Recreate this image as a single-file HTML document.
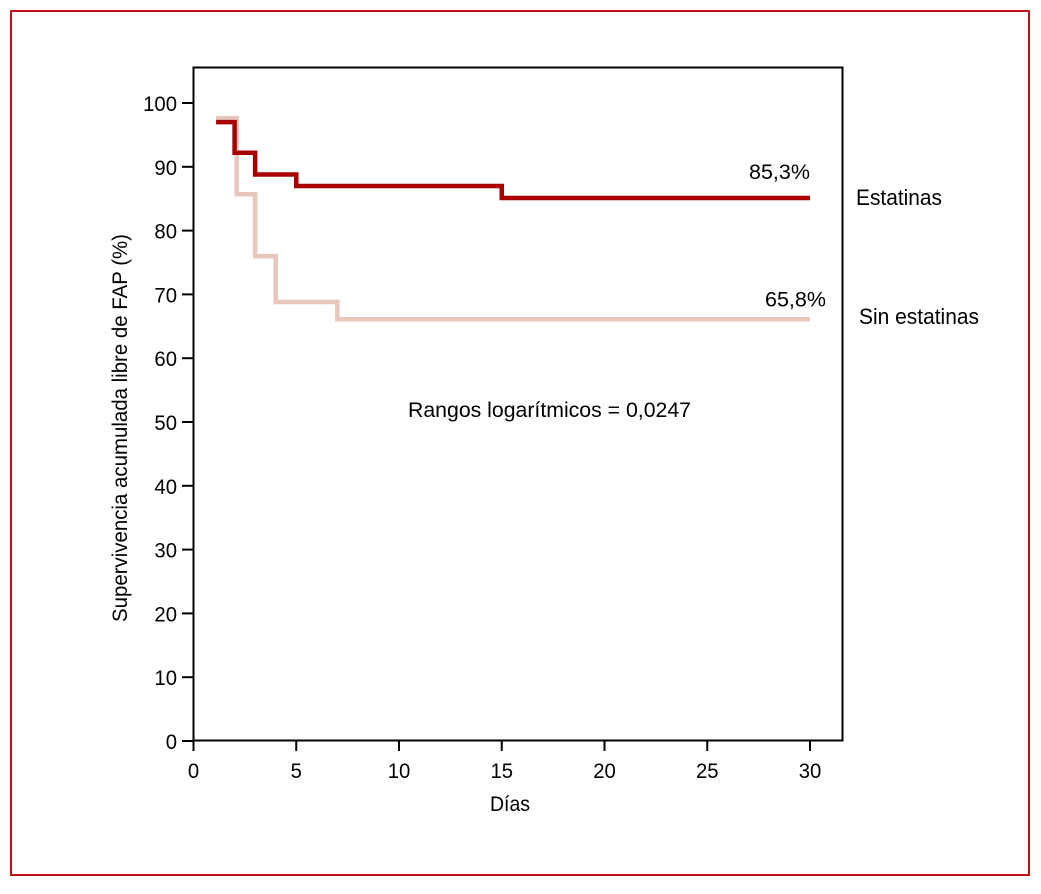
<!DOCTYPE html>
<html><head><meta charset="utf-8"><style>
body{margin:0;background:#fff;width:1041px;height:889px;overflow:hidden;font-family:"Liberation Sans",sans-serif}
</style></head><body>
<svg width="1041" height="889" xmlns="http://www.w3.org/2000/svg" font-family="Liberation Sans Narrow, Liberation Sans, sans-serif">
<rect x="11" y="11" width="1018" height="864" fill="none" stroke="#c0101e" stroke-width="2"/>
<g id="plot"></g>
</svg>
<script>
const yTicks=[0,10,20,30,40,50,60,70,80,90,100];
const xTicks=[0,5,10,15,20,25,30];
const statinDays=[1.1,2,3,5,15,30];
const statinValues=[97,92.2,88.8,87,85.1,85.1];
const noStatinDays=[1.1,2.1,3,4,7,30];
const noStatinValues=[97.6,85.7,76,68.8,66.1,66.1];
const endLabels=["85,3%","65,8%"];
const seriesNames=["Estatinas","Sin estatinas"];

const NS="http://www.w3.org/2000/svg";
const g=document.getElementById('plot');
const X=d=>193.5+d*(810-193.5)/30;
const Y=v=>741-v*6.38;
function el(t,a,txt){const e=document.createElementNS(NS,t);for(const k in a)e.setAttribute(k,a[k]);if(txt!==undefined)e.textContent=txt;g.appendChild(e);return e;}
const box=el('path',{d:`M193.5,67.5H842.5V740.5H193.5Z`,fill:'none',stroke:'#000','stroke-width':2});


yTicks.forEach(v=>{
 const t=el('line',{x1:182,x2:193.5,y1:Y(v),y2:Y(v),stroke:'#000','stroke-width':2});
 
 
 const l=el('text',{x:177,y:Y(v)+8,'text-anchor':'end','font-size':21,textLength:String(v).length*11.3,lengthAdjust:'spacingAndGlyphs'},v);
 
 
});
xTicks.forEach(v=>{
 const t=el('line',{x1:X(v),x2:X(v),y1:740.5,y2:751,stroke:'#000','stroke-width':2});
 
 
 const l=el('text',{x:X(v),y:778,'text-anchor':'middle','font-size':21,textLength:String(v).length*11.3,lengthAdjust:'spacingAndGlyphs'},v);
 
 
});
function step(days,vals,color,name){
 let d=`M${X(days[0])},${Y(vals[0])}`;
 for(let i=1;i<days.length;i++){d+=`H${X(days[i])}V${Y(vals[i])}`;}
 const p=el('path',{d,fill:'none',stroke:color,'stroke-width':4.5});
 
 
}
step(noStatinDays,noStatinValues,'#e8c6bc','sin-estatinas-curve');
step(statinDays,statinValues,'#a80000','estatinas-curve');
const a=el('text',{x:X(30),y:Y(statinValues[statinValues.length-1])-19,'text-anchor':'end','font-size':21,textLength:61,lengthAdjust:'spacingAndGlyphs'},endLabels[0]);


const b=el('text',{x:X(30)+16,y:Y(noStatinValues[noStatinValues.length-1])-13,'text-anchor':'end','font-size':21,textLength:61,lengthAdjust:'spacingAndGlyphs'},endLabels[1]);


const c=el('text',{x:856,y:205,'font-size':22,textLength:86,lengthAdjust:'spacingAndGlyphs'},seriesNames[0]);


const e=el('text',{x:859,y:324,'font-size':22,textLength:120,lengthAdjust:'spacingAndGlyphs'},seriesNames[1]);


const r=el('text',{x:408,y:417,'font-size':21,textLength:283,lengthAdjust:'spacingAndGlyphs'},'Rangos logarítmicos = 0,0247');


const xt=el('text',{x:490,y:811,'font-size':21,textLength:40,lengthAdjust:'spacingAndGlyphs'},'Días');


const yt=el('text',{x:-622,y:0,'font-size':21,textLength:388,lengthAdjust:'spacingAndGlyphs',transform:'translate(127,0) rotate(-90)'},'Supervivencia acumulada libre de FAP (%)');


</script>
</body></html>
